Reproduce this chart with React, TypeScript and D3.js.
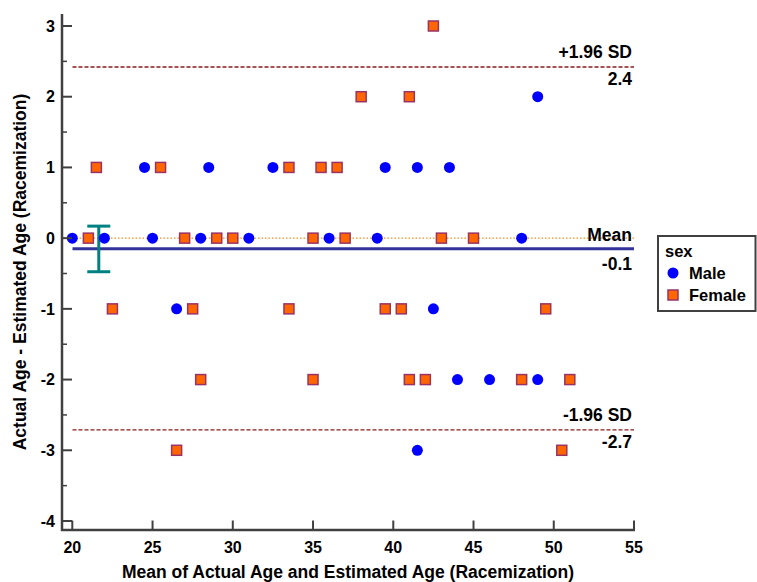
import React from "react";
import * as d3 from "d3";

// ---- data ----
const maleX = [24.5, 28.5, 32.5, 39.5, 41.5, 43.5, 49, 20, 22, 25, 28, 31, 36, 39, 48, 26.5, 42.5, 44, 46, 49, 41.5];
const maleY = [1, 1, 1, 1, 1, 1, 2, 0, 0, 0, 0, 0, 0, 0, 0, -1, -1, -2, -2, -2, -3];

const femaleX = [42.5, 38, 41, 21.5, 25.5, 33.5, 35.5, 36.5, 21, 27, 29, 30, 35, 37, 43, 45, 22.5, 27.5, 33.5, 39.5, 40.5, 49.5, 28, 35, 41, 42, 48, 51, 26.5, 50.5];
const femaleY = [3, 2, 2, 1, 1, 1, 1, 1, 0, 0, 0, 0, 0, 0, 0, 0, -1, -1, -1, -1, -1, -1, -2, -2, -2, -2, -2, -2, -3, -3];

const meanDiff = [-0.15];
const limitValues = [2.42, -2.71];
const limitNames = ["+1.96 SD", "-1.96 SD"];
const limitLabels = ["2.4", "-2.7"];
const meanLabel = ["Mean", "-0.1"];
const ciX = [21.65];
const ciRange = [-0.475, 0.17];

const xTicks = [20, 25, 30, 35, 40, 45, 50, 55];
const yTicks = [3, 2, 1, 0, -1, -2, -3, -4];
const yMinorTicks = [2.5, 1.5, 0.5, -0.5, -1.5, -2.5, -3.5];
const legendTitle = "sex";
const legendNames = ["Male", "Female"];

const FONT = "'Liberation Sans', Arial, sans-serif";

export default function App() {
  const W = 757, H = 582;
  const x = d3.scaleLinear().domain([20, 55]).range([72.3, 634]);
  const y = d3.scaleLinear().domain([3, -4]).range([26, 521]);
  const axisX = 62, axisY = 530, topY = 14, rightX = 634;
  const lineX0 = 72.5;
  const axisColor = "#404040";

  const sq = 10;

  return (
    <svg width={W} height={H} style={{ position: "absolute", left: 0, top: 0, background: "#fff" }} fontFamily={FONT}>
      {/* zero line */}
      <line x1={lineX0} x2={rightX} y1={y(0)} y2={y(0)} stroke="#FF8C1A" strokeWidth={1.2} strokeDasharray="1.5,2" />
      {/* mean line */}
      <line x1={lineX0} x2={rightX} y1={y(meanDiff[0])} y2={y(meanDiff[0])} stroke="#333399" strokeWidth={3} />
      {/* limits */}
      {limitValues.map((v, i) => (
        <line key={"l" + i} x1={lineX0} x2={rightX} y1={y(v)} y2={y(v)} stroke="#8B1A1A" strokeWidth={1.3} strokeDasharray="4,2" />
      ))}

      {/* CI error bar */}
      <g stroke="#008080" strokeWidth={3}>
        <line x1={x(ciX[0])} x2={x(ciX[0])} y1={y(ciRange[0])} y2={y(ciRange[1])} />
        <line x1={x(ciX[0]) - 11.5} x2={x(ciX[0]) + 11.5} y1={y(ciRange[0])} y2={y(ciRange[0])} />
        <line x1={x(ciX[0]) - 11.5} x2={x(ciX[0]) + 11.5} y1={y(ciRange[1])} y2={y(ciRange[1])} />
      </g>

      {/* points */}
      {femaleX.map((v, i) => (
        <rect key={"f" + i} x={x(v) - sq / 2} y={y(femaleY[i]) - sq / 2} width={sq} height={sq} fill="#FF6600" stroke="#993366" strokeWidth={1.5} />
      ))}
      {maleX.map((v, i) => (
        <circle key={"m" + i} cx={x(v)} cy={y(maleY[i])} r={5.5} fill="#0000FF" />
      ))}

      {/* line labels */}
      <g fontWeight="bold" fontSize={17.5} fill="#000" textAnchor="end">
        <text x={632} y={y(limitValues[0]) - 9}>{limitNames[0]}</text>
        <text x={632} y={y(limitValues[0]) + 18}>{limitLabels[0]}</text>
        <text x={632} y={y(meanDiff[0]) - 8}>{meanLabel[0]}</text>
        <text x={632} y={y(meanDiff[0]) + 21}>{meanLabel[1]}</text>
        <text x={632} y={y(limitValues[1]) - 9}>{limitNames[1]}</text>
        <text x={632} y={y(limitValues[1]) + 18}>{limitLabels[1]}</text>
      </g>

      {/* axes */}
      <g stroke={axisColor}>
        <line x1={axisX} x2={axisX} y1={topY} y2={axisY + 1} strokeWidth={2.5} />
        <line x1={axisX - 1} x2={rightX + 1} y1={axisY} y2={axisY} strokeWidth={2.5} />
        {yTicks.map((t) => (
          <line key={"yt" + t} x1={axisX} x2={axisX + 10} y1={y(t)} y2={y(t)} strokeWidth={2} />
        ))}
        {yMinorTicks.map((t) => (
          <line key={"ym" + t} x1={axisX} x2={axisX + 5} y1={y(t)} y2={y(t)} strokeWidth={1.5} />
        ))}
        {xTicks.map((t) => (
          <line key={"xt" + t} x1={x(t)} x2={x(t)} y1={axisY} y2={axisY - 9.5} strokeWidth={2} />
        ))}
      </g>
      <g fontWeight="bold" fontSize={16} fill="#000">
        {yTicks.map((t) => (
          <text key={"yl" + t} x={55} y={y(t)} dy="0.36em" textAnchor="end">{t}</text>
        ))}
        {xTicks.map((t) => (
          <text key={"xl" + t} x={x(t)} y={553} textAnchor="middle">{t}</text>
        ))}
      </g>

      {/* axis titles */}
      <text x={(axisX + rightX) / 2} y={578} textAnchor="middle" fontWeight="bold" fontSize={17.5}>
        Mean of Actual Age and Estimated Age (Racemization)
      </text>
      <text transform={`translate(26,${(topY + axisY) / 2}) rotate(-90)`} textAnchor="middle" fontWeight="bold" fontSize={17.5}>
        Actual Age - Estimated Age (Racemization)
      </text>

      {/* legend */}
      <g>
        <rect x={658} y={236} width={97.5} height={75} fill="#fff" stroke={axisColor} strokeWidth={2} />
        <text x={665} y={257} fontWeight="bold" fontSize={16.5}>{legendTitle}</text>
        <circle cx={673} cy={273} r={5.5} fill="#0000FF" />
        <text x={689} y={279} fontWeight="bold" fontSize={16.5}>{legendNames[0]}</text>
        <rect x={668} y={290} width={10} height={10} fill="#FF6600" stroke="#993366" strokeWidth={1.5} />
        <text x={689} y={301} fontWeight="bold" fontSize={16.5}>{legendNames[1]}</text>
      </g>
    </svg>
  );
}
